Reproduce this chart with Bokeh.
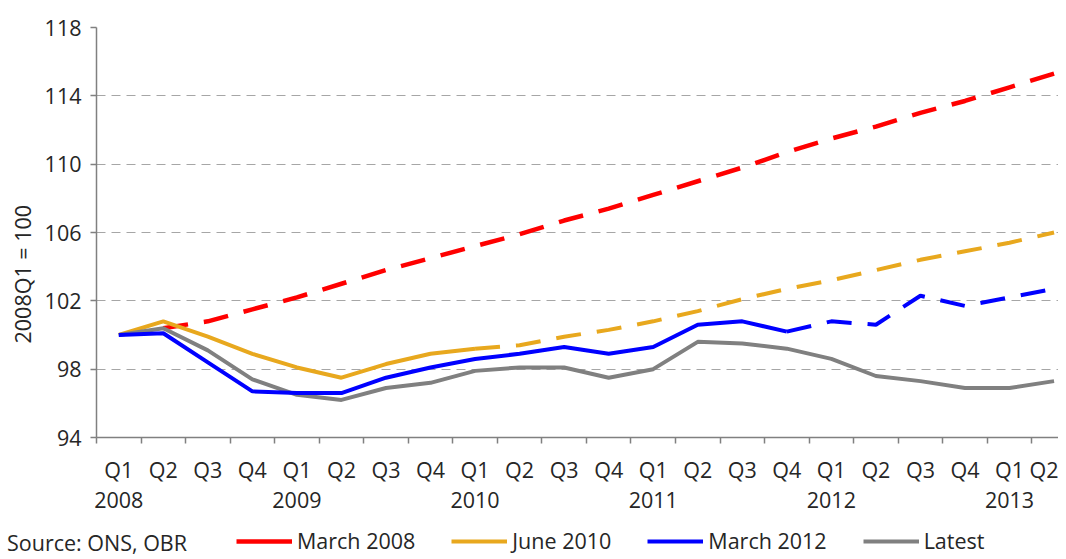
import math
from bokeh.plotting import figure
from bokeh.layouts import column
from bokeh.models import Range1d, FixedTicker, LinearAxis, Legend, LegendItem, Title
from bokeh.embed import file_html
from bokeh.resources import INLINE

# ---- data -------------------------------------------------------------
quarters = ["Q1", "Q2", "Q3", "Q4"] * 5 + ["Q1", "Q2"]
years = ["2008", "2009", "2010", "2011", "2012", "2013"]
nan = float("nan")

march_2008 = [nan, 100.4, 100.8, 101.5, 102.2, 103.0, 103.8, 104.5, 105.2, 105.9, 106.7,
              107.4, 108.2, 109.0, 109.8, 110.7, 111.5, 112.2, 113.0, 113.7, 114.5, 115.3]
june_2010 = [100.0, 100.8, 99.9, 98.9, 98.1, 97.5, 98.3, 98.9, 99.2, 99.4, 99.9,
             100.3, 100.8, 101.4, 102.1, 102.7, 103.2, 103.8, 104.4, 104.9, 105.4, 106.0]
march_2012 = [100.0, 100.1, 98.4, 96.7, 96.6, 96.6, 97.5, 98.1, 98.6, 98.9, 99.3,
              98.9, 99.3, 100.6, 100.8, 100.2, 100.8, 100.6, 102.3, 101.7, 102.2, 102.7]
latest = [100.0, 100.4, 99.1, 97.4, 96.5, 96.2, 96.9, 97.2, 97.9, 98.1, 98.1,
          97.5, 98.0, 99.6, 99.5, 99.2, 98.6, 97.6, 97.3, 96.9, 96.9, 97.3]
june_2010_split = 8    # last outturn: 2010 Q1
march_2012_split = 15  # last outturn: 2011 Q4
source_text = "Source: ONS, OBR"

x = list(range(len(quarters)))

# ---- styling ----------------------------------------------------------
FONT = "Open Sans"
FS = "21.5px"
TXT = "#262626"
RED, ORANGE, BLUE, GREY = "#FF0000", "#E8A81E", "#0000FF", "#808080"
DASH = "25 16"
LW = 4

p = figure(width=1058, height=520, output_backend="svg", toolbar_location=None,
           x_range=Range1d(-0.5, 21.1), y_range=Range1d(94, 118),
           min_border_left=95, min_border_right=0, min_border_top=27, min_border_bottom=83)
p.outline_line_color = None
p.xgrid.grid_line_color = None
p.ygrid.grid_line_color = "#A6A6A6"
p.ygrid.grid_line_dash = "9 6"
p.ygrid.grid_line_width = 1.2

# y axis
p.yaxis.ticker = FixedTicker(ticks=[94, 98, 102, 106, 110, 114, 118])
p.yaxis.axis_line_color = GREY
p.yaxis.axis_line_width = 1.5
p.yaxis.major_tick_line_color = GREY
p.yaxis.major_tick_line_width = 1.5
p.yaxis.major_tick_in = 0
p.yaxis.major_tick_out = 6
p.yaxis.minor_tick_line_color = None
p.yaxis.major_label_text_font = FONT
p.yaxis.major_label_text_font_size = FS
p.yaxis.major_label_text_color = TXT
p.yaxis.major_label_standoff = 9

ytitle = Title(text="2008Q1 = 100", align="left", offset=94, standoff=10,
               text_font=FONT, text_font_size=FS, text_font_style="normal", text_color=TXT)
p.add_layout(ytitle, "left")

# x axis (quarters), boundary ticks as minor ticks
xa = p.xaxis[0]
xa.ticker = FixedTicker(ticks=x, minor_ticks=[i - 0.5 for i in range(len(quarters) + 1)])
xa.major_label_overrides = {i: q for i, q in enumerate(quarters)}
xa.axis_line_color = GREY
xa.axis_line_width = 1.5
xa.major_tick_line_color = None
xa.major_tick_in = 0
xa.major_tick_out = 0
xa.minor_tick_line_color = GREY
xa.minor_tick_line_width = 1.5
xa.minor_tick_in = 0
xa.minor_tick_out = 6
xa.major_label_text_font = FONT
xa.major_label_text_font_size = FS
xa.major_label_text_color = TXT
xa.major_label_standoff = 11

# year axis
year_pos = [i for i, q in enumerate(quarters) if q == "Q1"]
ya = LinearAxis(ticker=FixedTicker(ticks=year_pos, minor_ticks=[]),
                major_label_overrides={pos: yr for pos, yr in zip(year_pos, years)})
ya.axis_line_color = None
ya.major_tick_line_color = None
ya.minor_tick_line_color = None
ya.major_tick_in = 0
ya.major_tick_out = 0
ya.major_label_text_font = FONT
ya.major_label_text_font_size = FS
ya.major_label_text_color = TXT
ya.major_label_standoff = 5
p.add_layout(ya, "below")

# ---- series -------------------------------------------------------------
p.line(x[1:], march_2008[1:], line_color=RED, line_width=LW + 0.5, line_dash=DASH)
p.line(x[:june_2010_split + 1], june_2010[:june_2010_split + 1], line_color=ORANGE, line_width=LW)
p.line(x[june_2010_split:], june_2010[june_2010_split:], line_color=ORANGE, line_width=LW, line_dash=DASH)
p.line(x, latest, line_color=GREY, line_width=LW)
p.line(x[:march_2012_split + 1], march_2012[:march_2012_split + 1], line_color=BLUE, line_width=LW)
p.line(x[march_2012_split:], march_2012[march_2012_split:], line_color=BLUE, line_width=LW, line_dash=DASH)

# ---- footer: source + legend -----------------------------------------------
f = figure(width=1058, height=39, output_backend="svg", toolbar_location=None,
           x_range=Range1d(0, 961), y_range=Range1d(0, 39),
           x_axis_type=None, y_axis_type=None, min_border=0)
f.outline_line_color = None
f.grid.grid_line_color = None

# single-point key samples (draw no segment themselves, only the legend swatch)
leg_red = f.line(x[1:2], march_2008[1:2], line_color=RED, line_width=LW + 0.5)
leg_orange = f.line(x[:1], june_2010[:1], line_color=ORANGE, line_width=LW)
leg_blue = f.line(x[:1], march_2012[:1], line_color=BLUE, line_width=LW)
leg_grey = f.line(x[:1], latest[:1], line_color=GREY, line_width=LW)

legend = Legend(items=[LegendItem(label="March 2008", renderers=[leg_red]),
                       LegendItem(label="June 2010", renderers=[leg_orange]),
                       LegendItem(label="March 2012", renderers=[leg_blue]),
                       LegendItem(label="Latest", renderers=[leg_grey])],
                orientation="horizontal", location=(140, 1),
                glyph_width=56, glyph_height=20, label_standoff=5, spacing=36,
                padding=0, margin=0, border_line_color=None, background_fill_alpha=0,
                label_text_font=FONT, label_text_font_size=FS, label_text_color=TXT)
f.add_layout(legend)

# source note as a label-only axis at the footer's left edge
sa = LinearAxis(ticker=FixedTicker(ticks=[0.5], minor_ticks=[]),
                major_label_overrides={0.5: source_text})
sa.axis_line_color = None
sa.major_tick_line_color = None
sa.minor_tick_line_color = None
sa.major_tick_in = 0
sa.major_tick_out = 0
sa.major_label_text_font = FONT
sa.major_label_text_font_size = FS
sa.major_label_text_color = TXT
sa.major_label_standoff = -29
f.add_layout(sa, "below")

layout = column(p, f, spacing=0)
open("out.html", "w").write(file_html(layout, INLINE))
